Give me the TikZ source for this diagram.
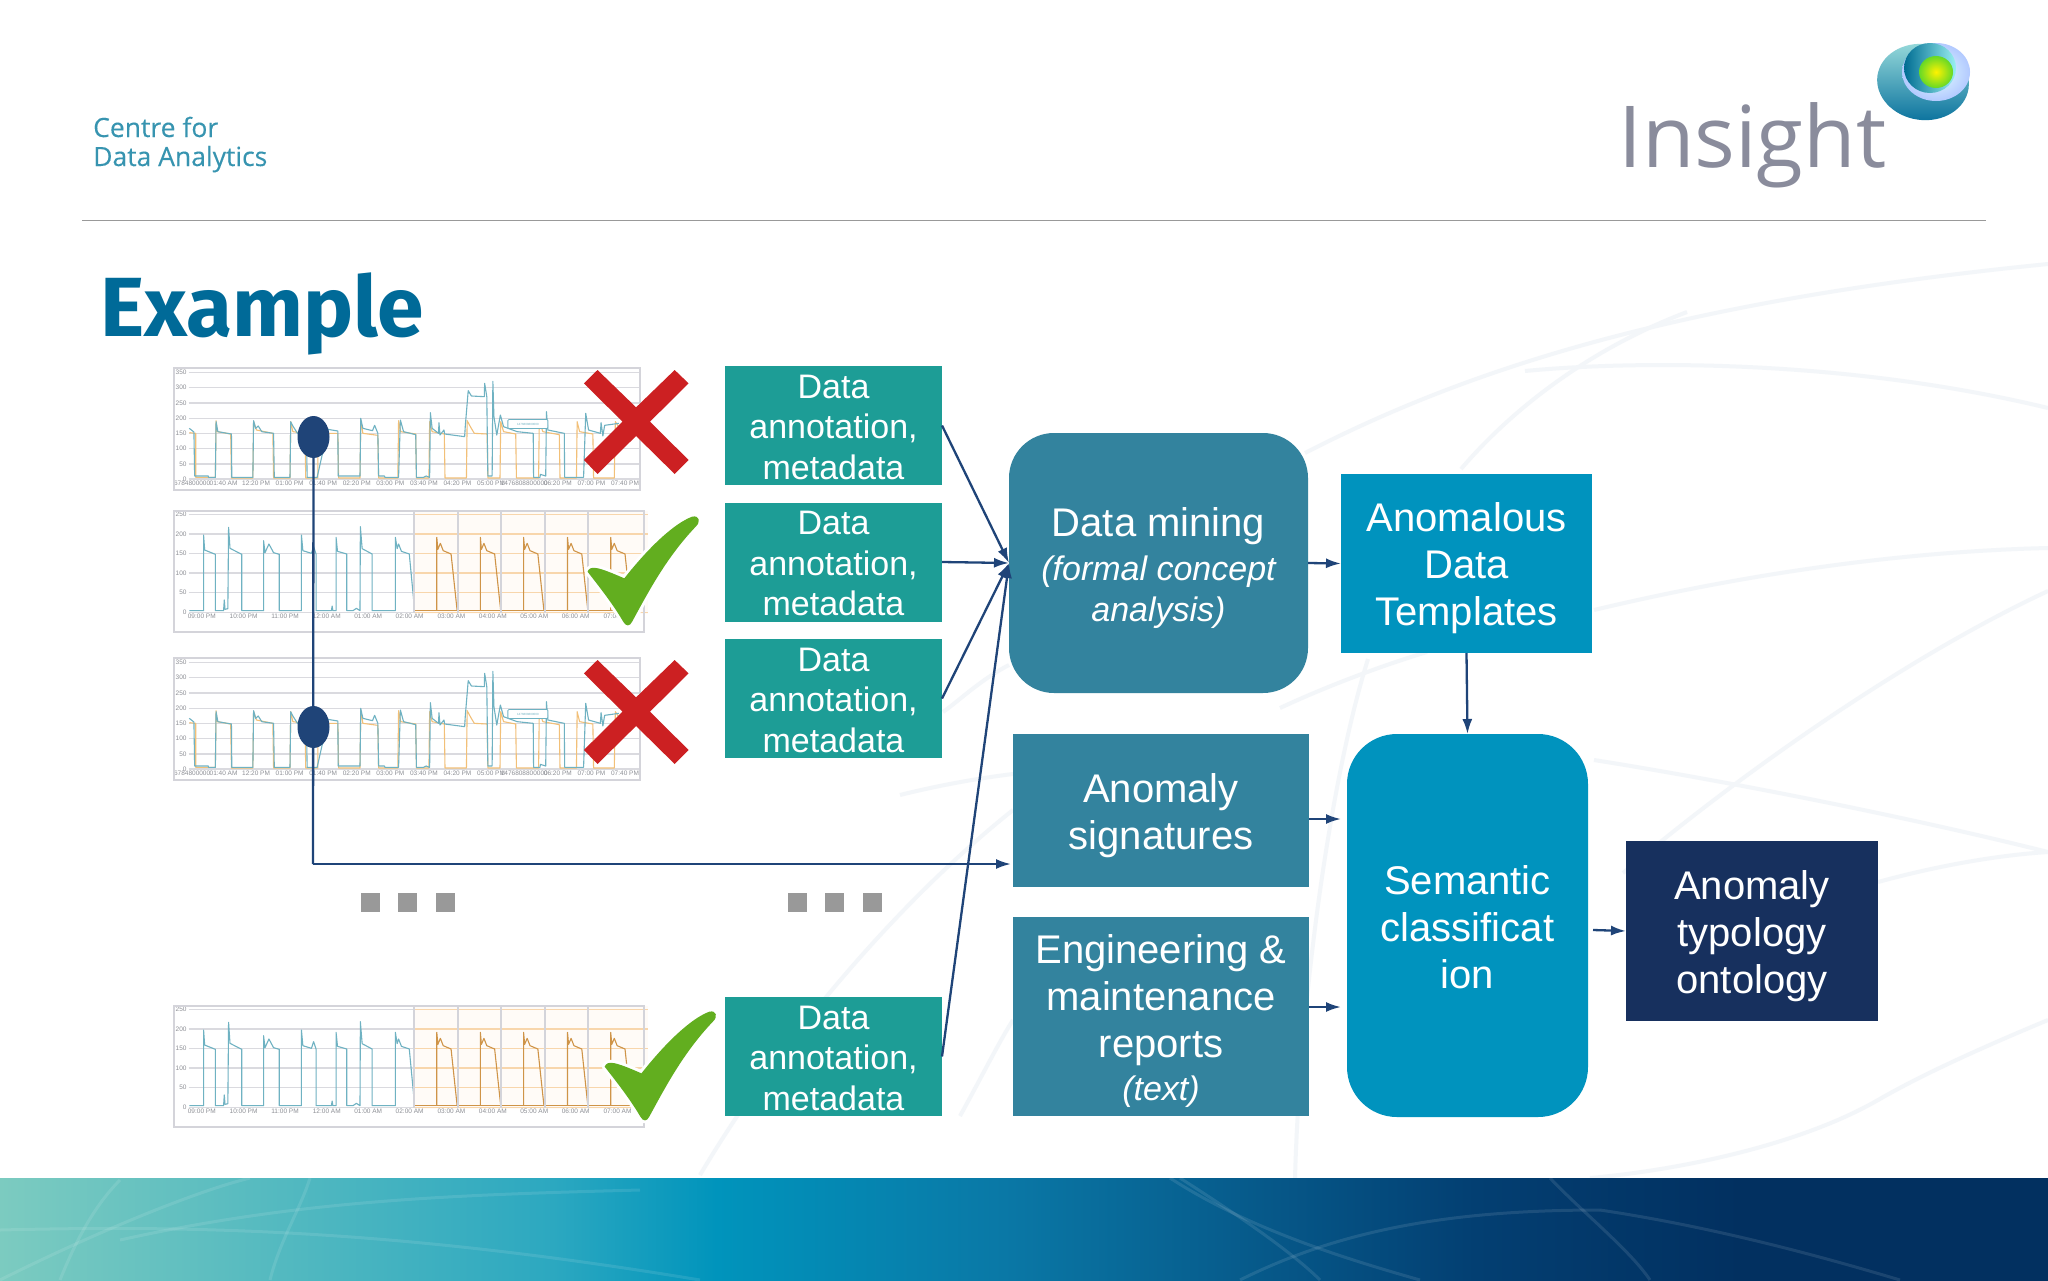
\documentclass[tikz,border=0pt]{standalone}
\usepackage{fontspec}
\setmainfont{Liberation Sans}
\newfontfamily\titlefont{Fira Sans}
\newfontfamily\logofont[FakeBold=0.2]{Open Sans}
\newfontfamily\insightfont{Open Sans}
\usetikzlibrary{arrows.meta,shapes.geometric,calc}
\definecolor{datagreen}{HTML}{1D9D96}
\definecolor{minecol}{HTML}{33839E}
\definecolor{cyancol}{HTML}{0093BE}
\definecolor{navycol}{HTML}{17305E}
\definecolor{linkcol}{HTML}{1F4478}
\definecolor{gridcol}{HTML}{DADADF}
\definecolor{framecol}{HTML}{D4D4DA}
\definecolor{tealline}{HTML}{6FB2C2}
\definecolor{orangeline}{HTML}{F2C078}
\definecolor{bandline}{HTML}{F8D6AC}
\definecolor{darkorange}{HTML}{CF9448}
\definecolor{labelcol}{HTML}{8E9096}
\definecolor{crosscol}{HTML}{CC2022}
\definecolor{checkcol}{HTML}{62AE1F}
\definecolor{swirl}{HTML}{F3F6F9}
\definecolor{brandcol}{HTML}{3794B0}
\definecolor{insightcol}{HTML}{8A8C9C}
\definecolor{titlecol}{HTML}{006A98}
\definecolor{footA}{HTML}{7CCBC0}
\definecolor{footB}{HTML}{2CA8C0}
\definecolor{footC}{HTML}{0094BC}
\definecolor{footD}{HTML}{0A78A6}
\definecolor{footE}{HTML}{033F72}
\definecolor{footF}{HTML}{023060}
\pgfdeclarehorizontalshading{footshade}{100bp}{
  color(0bp)=(footA); color(25bp)=(footA); color(38.5bp)=(footB); color(42.5bp)=(footC);
  color(49.5bp)=(footD); color(61bp)=(footE); color(67.5bp)=(footF); color(100bp)=(footF)}
\newcommand{\smallit}[1]{{\fontsize{34}{47}\selectfont\itshape #1}}
\newcommand{\dn}[1]{\rule{0pt}{#1}}
\tikzset{
  boxbase/.style={inner sep=0pt,outer sep=0pt,text=white,align=center},
  databox/.style={boxbase,fill=datagreen,minimum width=217pt,minimum height=119pt,font=\fontsize{34}{40.5}\selectfont},
  minebox/.style={boxbase,fill=minecol,font=\fontsize{40}{47}\selectfont},
  cyanbox/.style={boxbase,fill=cyancol,font=\fontsize{40}{47}\selectfont},
  link/.style={draw=linkcol,line width=2.3pt,-{Latex[length=15pt,width=10pt]}},
  plainlink/.style={draw=linkcol,line width=2.3pt},
  grid line/.style={gridcol,line width=1.2pt},
  tinylabel/.style={inner sep=0pt,text=labelcol,font=\fontsize{6.5}{7}\selectfont},
  dotbox/.style={fill=black!40,minimum size=19pt,inner sep=0pt},
}
\newcommand{\chartA}[2]{%
\begin{scope}[shift={(160,#1)},x=0.35714pt,y=-0.33333pt]
  \fill[white] (38,55) rectangle (1345,420);
  \foreach \g in {67,113,159,205,250,296,342,387} \draw[grid line] (80,\g) -- (1340,\g);
  \foreach \g/\t in {67/350,113/300,159/250,205/200,250/150,296/100,342/50,387/0}
    \node[tinylabel,anchor=east] (#2y\t) at (75,\g) {\t};
  \foreach \g/\t in {90/6784800000,178/01:40 AM,269/12:20 PM,363/01:00 PM,457/01:40 PM,551/02:20 PM,645/03:00 PM,739/03:40 PM,833/04:20 PM,927/05:00 PM,1020/1476808800000,1114/06:20 PM,1208/07:00 PM,1302/07:40 PM}
    \node[tinylabel] (#2x\g) at (\g,401) {\t};
  \draw[orangeline,line width=1.1pt,line join=round] (82,248) -- (100,250) -- (100,382) -- (155,382) -- (157,212) -- (160,245) -- (198,252) -- (200,384) -- (260,384) -- (262,215) -- (270,240) -- (316,250) -- (318,384) -- (364,384) -- (366,215) -- (372,245) -- (406,250) -- (408,384) -- (442,384) -- (442,250) -- (498,250) -- (500,384) -- (560,384) -- (562,210) -- (568,250) -- (610,256) -- (612,384) -- (666,384) -- (668,212) -- (674,245) -- (716,252) -- (718,384) -- (753,384) -- (755,215) -- (762,245) -- (796,252) -- (798,384) -- (858,384) -- (860,212) -- (870,232) -- (880,250) -- (916,252) -- (918,384) -- (952,384) -- (954,215) -- (962,245) -- (996,252) -- (998,384) -- (1060,384) -- (1062,215) -- (1072,245) -- (1118,254) -- (1120,384) -- (1166,384) -- (1168,215) -- (1175,245) -- (1212,252) -- (1214,384) -- (1272,384) -- (1275,215) -- (1290,240);
  \draw[tealline,line width=1.1pt,line join=round] (82,235) -- (95,246) -- (97,378) -- (135,378) -- (136,382) -- (155,382) -- (157,215) -- (162,245) -- (200,252) -- (201,382) -- (260,382) -- (262,212) -- (268,235) -- (275,228) -- (285,245) -- (318,250) -- (320,382) -- (364,382) -- (366,215) -- (372,228) -- (385,250) -- (410,252) -- (412,382) -- (440,382) -- (470,238) -- (498,243) -- (499,378) -- (560,378) -- (562,205) -- (568,235) -- (595,242) -- (601,226) -- (610,250) -- (612,378) -- (628,378) -- (630,382) -- (668,382) -- (673,210) -- (682,245) -- (716,254) -- (718,382) -- (738,382) -- (745,378) -- (755,382) -- (757,188) -- (762,235) -- (780,250) -- (781,218) -- (784,255) -- (795,240) -- (797,252) -- (853,260) -- (855,225) -- (863,122) -- (872,138) -- (908,140) -- (909,100) -- (915,140) -- (918,378) -- (930,378) -- (932,94) -- (935,200) -- (943,255) -- (953,195) -- (962,230) -- (1000,245) -- (1045,250) -- (1046,382) -- (1064,382) -- (1065,373) -- (1080,378) -- (1082,185) -- (1086,240) -- (1132,250) -- (1133,382) -- (1186,382) -- (1192,190) -- (1200,240) -- (1233,250) -- (1235,218) -- (1240,258) -- (1245,226) -- (1285,220);
  \node[draw=tealline,fill=white,inner sep=0pt,minimum width=40pt,minimum height=9pt,line width=.8pt,rounded corners=1pt,text=tealline,font=\fontsize{3}{3}\selectfont] (#2tip) at (1030,222) {1476808800000};
  \draw[framecol,line width=2pt] (38,55) rectangle (1345,420);
  \fill[crosscol] (1187,100) -- (1225,60) -- (1333,172) -- (1441,60) -- (1480,100) -- (1372,215) -- (1480,330) -- (1441,372) -- (1333,258) -- (1225,372) -- (1187,330) -- (1295,215) -- cycle;
\end{scope}}
\newcommand{\chartB}[4]{%
\begin{scope}[shift={(160,#1)},x=0.35714pt,y=-0.33333pt]
  \fill[white] (38,482) rectangle (1365,845);
  \fill[orange!3] (712,484) rectangle (1365,792);
  \foreach \g in {493,552,610,669,728,787} {
    \draw[grid line] (80,\g) -- (712,\g);
    \draw[bandline,line width=1.2pt] (712,\g) -- (1365,\g);
  }
  \foreach \g/\t in {493/250,552/200,610/150,669/100,728/50,787/0}
    \node[tinylabel,anchor=east] (#2y\t) at (75,\g) {\t};
  \foreach \g/\t in {117/09:00 PM,234/10:00 PM,350/11:00 PM,467/12:00 AM,583/01:00 AM,699/02:00 AM,816/03:00 AM,932/04:00 AM,1048/05:00 AM,1164/06:00 AM,1281/07:00 AM}
    \node[tinylabel] (#2x\g) at (\g,800) {\t};
  \draw[tealline,line width=1.1pt,line join=round] (82,782) -- (122,782) -- (122,555) -- (125,600) -- (155,613) -- (155,782) -- (178,782) -- (180,750) -- (182,778) -- (190,776) -- (192,532) -- (196,595) -- (229,613) -- (229,782) -- (290,782) -- (290,572) -- (294,608) -- (305,582) -- (318,608) -- (334,613) -- (334,782) -- (396,782) -- (396,555) -- (400,602) -- (424,610) -- (430,590) -- (437,612) -- (437,782) -- (480,782) -- (482,768) -- (484,782) -- (493,782) -- (493,562) -- (497,604) -- (523,612) -- (523,782) -- (540,782) -- (550,775) -- (560,782) -- (561,530) -- (566,596) -- (594,612) -- (594,782) -- (659,782) -- (659,562) -- (664,596) -- (668,582) -- (676,604) -- (698,612) -- (712,770);
  \foreach \r/\f in {775/815,897/937,1018/1058,1141/1181,1262/1302} {
    \draw[darkorange,line width=1.1pt,line join=round] (\r,782) -- (\r,562) -- ({\r+3},598) -- ({\r+10},580) -- ({\r+18},602) -- (\f,612) -- ({\f+17},782);
  }
  \draw[darkorange,line width=1.1pt] (712,782) -- (1320,782);
  \foreach \g in {712,834,956,1079,1199} \draw[framecol,line width=2pt] (\g,484) -- (\g,790);
  \draw[framecol,line width=2pt] (38,482) rectangle (1355,845);
  \begin{scope}[shift={(#3,#4)}]
  \path[draw=white,line width=6pt,fill=white,line join=round] (1197,665) .. controls (1205,645) and (1225,650) .. (1300,685) .. controls (1370,590) and (1440,520) .. (1490,500) .. controls (1510,495) and (1515,515) .. (1500,530) .. controls (1420,620) and (1370,720) .. (1322,815) .. controls (1315,830) and (1305,830) .. (1297,815) .. controls (1270,765) and (1230,710) .. (1197,665) -- cycle;
  \fill[checkcol] (1197,665) .. controls (1205,645) and (1225,650) .. (1300,685) .. controls (1370,590) and (1440,520) .. (1490,500) .. controls (1510,495) and (1515,515) .. (1500,530) .. controls (1420,620) and (1370,720) .. (1322,815) .. controls (1315,830) and (1305,830) .. (1297,815) .. controls (1270,765) and (1230,710) .. (1197,665) -- cycle;
  \end{scope}
\end{scope}}
\begin{document}
\begin{tikzpicture}[x=1pt,y=-1pt]
\useasboundingbox (0,0) rectangle (2048,1280);
\fill[white] (0,0) rectangle (2048,1280);
% background swirls
\begin{scope}[swirl,line width=4pt]
  \draw (1305,453) .. controls (1476,365) and (1687,300) .. (2048,264);
  \draw (1461,469) .. controls (1520,400) and (1600,345) .. (1687,312);
  \draw (1525,371) .. controls (1640,360) and (1850,360) .. (2048,408);
  \draw (1594,610) .. controls (1720,580) and (1880,552) .. (2048,548);
  \draw (1594,760) .. controls (1720,780) and (1900,815) .. (2048,852);
  \draw (1623,873) .. controls (1731,781) and (1900,660) .. (2048,591);
  \draw (1878,882) .. controls (1940,865) and (2000,855) .. (2048,852);
  \draw (1878,1100) .. controls (1930,1070) and (2000,1040) .. (2048,1020);
  \draw (1590,1178) .. controls (1680,1170) and (1800,1145) .. (1878,1100);
  \draw (1368,659) .. controls (1330,780) and (1300,1000) .. (1295,1178);
  \draw (1280,708) .. controls (1340,680) and (1400,660) .. (1427,652);
  \draw (943,712) .. controls (960,700) and (980,680) .. (1009,665);
  \draw (700,1175) .. controls (780,1040) and (900,900) .. (1013,810);
  \draw (960,1116) .. controls (980,1080) and (1000,1040) .. (1013,1020);
  \draw (900,795) .. controls (940,785) and (980,778) .. (1013,774);
\end{scope}
% header
\node[anchor=base west,inner sep=0pt,text=brandcol,font=\logofont\fontsize{26.5}{28}\selectfont] (brand1) at (93,137) {Centre for};
\node[anchor=base west,inner sep=0pt,text=brandcol,font=\logofont\fontsize{26.5}{28}\selectfont] (brand2) at (93,166) {Data Analytics};
\node[anchor=base west,inner sep=0pt,text=insightcol,font=\insightfont\fontsize{85.5}{90}\selectfont] (insight) at (1618,167) {Insight};
\begin{scope}[rotate around={-8:(1923,82)}]
  \shade[top color=cyan!30!teal!40!white,bottom color=cyancol!65!navycol] (1923,82) ellipse (46 and 38);
\end{scope}
\shade[inner color=cyan!10!white,outer color=cyan!30!blue!30!white] (1936,72) ellipse (34 and 29);
\shade[left color=teal!85!blue,right color=teal!30!cyan!40!white] (1930,68) ellipse (26 and 25);
\shade[inner color=yellow!90!orange,outer color=green!50!teal!60!yellow] (1936,72) ellipse (17 and 16);
\draw[black!40,line width=1.4pt] (82,220.5) -- (1986,220.5);
\node[anchor=base west,inner sep=0pt,text=titlecol,font=\titlefont\bfseries\fontsize{84}{85}\selectfont] (title) at (100,336) {Example};
% charts
\chartA{350}{ca}
\chartB{350}{cb}{0}{0}
\chartA{640}{cc}
\chartB{845}{cd}{48}{0}
% footer
\shade[shading=footshade] (0,1178) rectangle (2048,1280);
\begin{scope}[white,opacity=.1,line width=3pt]
  \draw (0,1230) .. controls (200,1225) and (400,1230) .. (700,1280);
  \draw (0,1280) .. controls (100,1230) and (200,1190) .. (250,1178);
  \draw (270,1280) .. controls (280,1240) and (300,1210) .. (310,1178);
  \draw (60,1280) .. controls (80,1230) and (100,1200) .. (120,1180);
  \draw (120,1240) .. controls (300,1200) and (450,1195) .. (640,1190);
  \draw (1170,1178) .. controls (1250,1230) and (1350,1260) .. (1420,1280);
  \draw (1180,1178) .. controls (1230,1210) and (1290,1250) .. (1320,1280);
  \draw (1550,1178) .. controls (1580,1210) and (1630,1250) .. (1650,1280);
  \draw (1240,1280) .. controls (1340,1230) and (1450,1210) .. (1600,1210);
  \draw (1600,1210) .. controls (1700,1225) and (1800,1250) .. (1900,1280);
\end{scope}
% boxes
\node[databox] (d1) at (833.5,425.5) {\dn{27pt}Data\\annotation,\\metadata};
\node[databox] (d2) at (833.5,562) {\dn{27pt}Data\\annotation,\\metadata};
\node[databox] (d3) at (833.5,698.5) {\dn{27pt}Data\\annotation,\\metadata};
\node[databox] (d4) at (833.5,1056.5) {\dn{27pt}Data\\annotation,\\metadata};
\node[minebox,rounded corners=45pt,minimum width=299pt,minimum height=260pt] (dm) at (1158.5,563) {\dn{39pt}Data mining\\[-3pt]\smallit{(formal concept}\\[-6.5pt]\smallit{analysis)}};
\node[minebox,minimum width=296pt,minimum height=153pt] (sig) at (1161,810.5) {\dn{39pt}Anomaly\\signatures};
\node[minebox,minimum width=296pt,minimum height=199pt] (eng) at (1161,1016.5) {\dn{39pt}Engineering \&\\maintenance\\reports\\[-4pt]\smallit{(text)}};
\node[cyanbox,minimum width=251pt,minimum height=179pt] (an) at (1466.5,563.5) {\dn{39pt}Anomalous\\Data\\Templates};
\node[cyanbox,rounded corners=50pt,minimum width=241pt,minimum height=383pt] (sem) at (1467.5,925.5) {\dn{33pt}Semantic\\classificat\\ion};
\node[boxbase,fill=navycol,minimum width=252pt,minimum height=180pt,font=\fontsize{40}{47}\selectfont] (ont) at (1752,931) {\dn{39pt}Anomaly\\typology\\ontology};
% ellipsis
\foreach \x in {370,407,445,797,834,872} \node[dotbox] (dot\x) at (\x,902) {};
% links
\coordinate (corner) at (313,864);
\coordinate (sigin) at (1341,819);
\coordinate (engin) at (1341,1007);
\coordinate (sigstop) at (1011,864);
\coordinate (semout) at (1593,930);
\draw[link] (d1.east) -- (dm.west);
\draw[link] (d2.east) -- (dm.west);
\draw[link] (d3.east) -- (dm.west);
\draw[link] (d4.east) -- (dm.west);
\draw[link] (dm.east) -- (an.west);
\draw[link] (an.south) -- (sem.north);
\draw[link] (sig.east |- sigin) -- (sigin);
\draw[link] (eng.east |- engin) -- (engin);
\draw[link] (semout) -- (ont.west);
\node[ellipse,fill=linkcol,minimum width=32pt,minimum height=42pt,inner sep=0pt] (c1) at (313.5,437) {};
\node[ellipse,fill=linkcol,minimum width=32pt,minimum height=42pt,inner sep=0pt] (c2) at (313.5,727) {};
\draw[plainlink] (c1.south) -- (corner);
\draw[link] (corner) -- (sigstop);
\end{tikzpicture}
\end{document}
